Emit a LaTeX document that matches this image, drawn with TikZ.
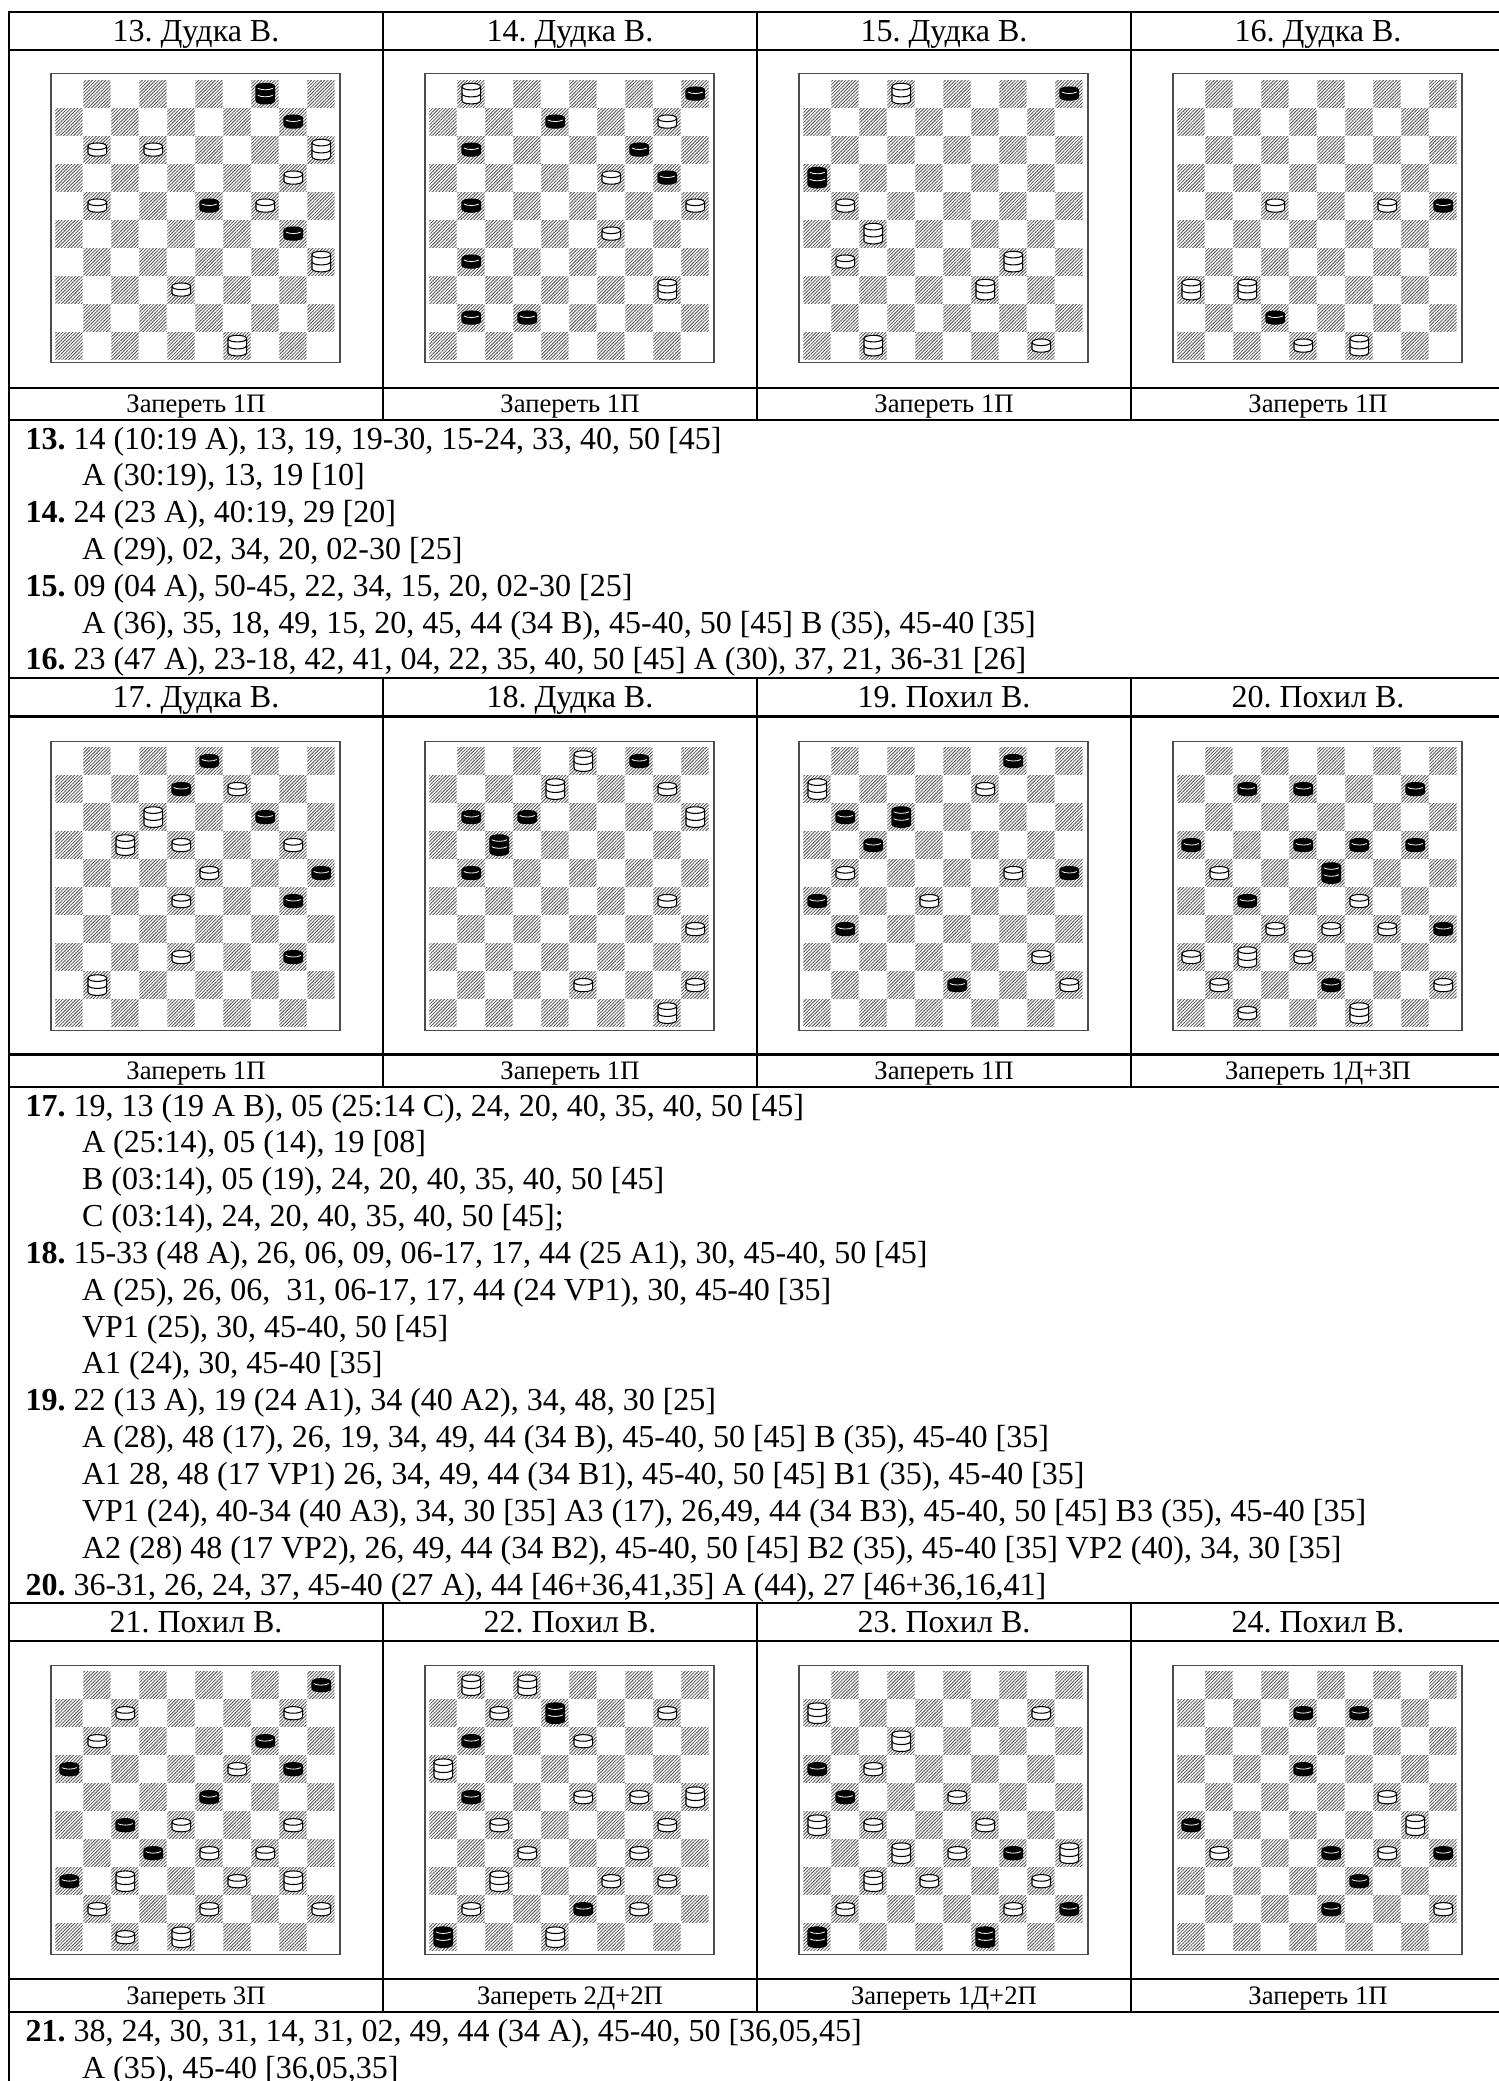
\documentclass[tikz,border=0pt]{standalone}
\usepackage{fontspec}
\setmainfont{Liberation Serif}
\usetikzlibrary{patterns.meta}
\tikzset{
  rule/.style={line width=0.85pt,black},
  frameline/.style={line width=0.5pt,draw=black!70},
  hatchsq/.style={pattern={Lines[angle=45,distance=0.88pt,line width=0.3pt]},pattern color=black!70},
  titletxt/.style={font=\fontsize{12}{14}\selectfont\frenchspacing,anchor=base,inner sep=0pt},
  goaltxt/.style={font=\fontsize{10}{12}\selectfont\frenchspacing,anchor=base,inner sep=0pt},
  sol/.style={font=\fontsize{12}{14}\selectfont\frenchspacing,anchor=base west,inner sep=0pt},
  wbody/.style={draw=black,fill=white,line width=0.4pt},
  warc/.style={draw=black,line width=0.4pt},
  bbody/.style={draw=black,fill=black,line width=0.4pt},
  barc/.style={draw=white,line width=0.3pt},
  wm/.pic={
    \draw[wbody] (-9.3,-3.3) -- (-9.3,3.3) .. controls (-9.3,7.7) and (9.3,7.7) .. (9.3,3.3) -- (9.3,-3.3) .. controls (9.3,-7.7) and (-9.3,-7.7) .. cycle;
    \draw[warc] (-9.3,-3.3) .. controls (-9.3,1.1) and (9.3,1.1) .. (9.3,-3.3);
  },
  wk/.pic={
    \draw[wbody] (-9.3,-7) -- (-9.3,7) .. controls (-9.3,11.4) and (9.3,11.4) .. (9.3,7) -- (9.3,-7) .. controls (9.3,-11.4) and (-9.3,-11.4) .. cycle;
    \draw[warc] (-9.3,-7) .. controls (-9.3,-2.6) and (9.3,-2.6) .. (9.3,-7);
    \draw[warc] (-9.3,0) .. controls (-9.3,4.4) and (9.3,4.4) .. (9.3,0);
  },
  bm/.pic={
    \draw[bbody] (-9.3,-3.3) -- (-9.3,3.3) .. controls (-9.3,7.7) and (9.3,7.7) .. (9.3,3.3) -- (9.3,-3.3) .. controls (9.3,-7.7) and (-9.3,-7.7) .. cycle;
    \draw[barc] (-7.5,-1.6) .. controls (-4,0.4) and (4,0.4) .. (7.5,-1.6);
  },
  bk/.pic={
    \draw[bbody] (-9.3,-7) -- (-9.3,7) .. controls (-9.3,11.4) and (9.3,11.4) .. (9.3,7) -- (9.3,-7) .. controls (9.3,-11.4) and (-9.3,-11.4) .. cycle;
    \draw[barc] (-7.5,-5.3) .. controls (-4,-3.3) and (4,-3.3) .. (7.5,-5.3);
    \draw[barc] (-7.5,1.7) .. controls (-4,3.7) and (4,3.7) .. (7.5,1.7);
  },
}
\newcommand{\sqpos}[1]{\pgfmathtruncatemacro\rr{int((#1-1)/5)}\pgfmathtruncatemacro\cc{2*(#1-1-5*\rr)+1-mod(\rr,2)}}
\newcommand{\putpieces}[2]{\def\plist{#2}\ifx\plist\empty\else
  \foreach \n in {#2}{\sqpos{\n}\pic at (\ox+28*\cc+14,\oy+28*\rr+13.6) {#1};}\fi}
% frame x, frame y, white men, white kings, black men, black kings
\newcommand{\drawboard}[6]{%
  \pgfmathsetmacro\ox{#1+4.3}\pgfmathsetmacro\oy{#2+6.3}
  \draw[frameline] (#1,#2) rectangle (#1+289,#2+289);
  \foreach \s in {1,...,50}{\sqpos{\s}\fill[hatchsq] (\ox+28*\cc,\oy+28*\rr) rectangle (\ox+28*\cc+27.4,\oy+28*\rr+27.2);}
  \putpieces{wm}{#3}\putpieces{wk}{#4}\putpieces{bm}{#5}\putpieces{bk}{#6}
}
\newcommand{\tablerow}[4]{%
  \draw[rule] (9,#1) -- (1499,#1);
  \draw[rule] (9,#2) -- (1499,#2);
  \draw[rule] (9,#3) -- (1499,#3);
  \draw[rule] (9,#4) -- (1499,#4);
  \foreach \v in {383,757,1131}{\draw[rule] (\v,#1) -- (\v,#4);}
}
\begin{document}
\begin{tikzpicture}[x=0.375pt,y=-0.375pt]
\useasboundingbox (0,0) rectangle (1499,2081);
\fill[white] (0,0) rectangle (1499,2081);
\tablerow{12}{50}{388}{420}
\tablerow{678}{716.5}{1054.5}{1087}
\tablerow{1603}{1641}{1979}{2012}
\draw[rule] (9,11) -- (9,2081);
% row 1
\node[titletxt] (h13) at (196,41.7) {13. Дудка В.};
\node[titletxt] (h14) at (570,41.7) {14. Дудка В.};
\node[titletxt] (h15) at (944,41.7) {15. Дудка В.};
\node[titletxt] (h16) at (1318,41.7) {16. Дудка В.};
\drawboard{51}{73.7}{11,12,20,21,24,38}{15,35,49}{10,23,30}{4}
\drawboard{425}{73.7}{10,19,25,29}{1,40}{5,8,11,14,20,21,31,41,42}{}
\drawboard{799}{73.7}{21,31,50}{2,27,34,39,47}{5}{16}
\drawboard{1173}{73.7}{22,24,48}{36,37,49}{25,42}{}
\node[goaltxt] (g13) at (196,412.7) {Запереть 1П};
\node[goaltxt] (g14) at (570,412.7) {Запереть 1П};
\node[goaltxt] (g15) at (944,412.7) {Запереть 1П};
\node[goaltxt] (g16) at (1318,412.7) {Запереть 1П};
\node[sol] (s1) at (25,449) {\textbf{13.} 14 (10:19 A), 13, 19, 19-30, 15-24, 33, 40, 50 [45]};
\node[sol] (s2) at (81.5,485.8) {A (30:19), 13, 19 [10]};
\node[sol] (s3) at (25,522.6) {\textbf{14.} 24 (23 A), 40:19, 29 [20]};
\node[sol] (s4) at (81.5,559.4) {A (29), 02, 34, 20, 02-30 [25]};
\node[sol] (s5) at (25,596.2) {\textbf{15.} 09 (04 A), 50-45, 22, 34, 15, 20, 02-30 [25]};
\node[sol] (s6) at (81.5,633) {A (36), 35, 18, 49, 15, 20, 45, 44 (34 B), 45-40, 50 [45] B (35), 45-40 [35]};
\node[sol] (s7) at (25,669.8) {\textbf{16.} 23 (47 A), 23-18, 42, 41, 04, 22, 35, 40, 50 [45] A (30), 37, 21, 36-31 [26]};
% row 2
\node[titletxt] (h17) at (196,707.7) {17. Дудка В.};
\node[titletxt] (h18) at (570,707.7) {18. Дудка В.};
\node[titletxt] (h19) at (944,707.7) {19. Похил В.};
\node[titletxt] (h20) at (1318,707.7) {20. Похил В.};
\drawboard{51}{741.2}{9,18,20,23,28,38}{12,17,41}{3,8,14,25,30,40}{}
\drawboard{425}{741.2}{10,30,35,43,45}{3,8,15,50}{4,11,12,21}{17}
\drawboard{799}{741.2}{9,21,24,28,40,45}{6}{4,11,17,25,26,31,43}{12}
\drawboard{1173}{741.2}{21,29,32,33,34,36,38,41,45,47}{37,49}{7,8,10,16,18,19,20,27,35,43}{23}
\node[goaltxt] (g17) at (196,1079.4) {Запереть 1П};
\node[goaltxt] (g18) at (570,1079.4) {Запереть 1П};
\node[goaltxt] (g19) at (944,1079.4) {Запереть 1П};
\node[goaltxt] (g20) at (1318,1079.4) {Запереть 1Д+3П};
\node[sol] (s8) at (25,1116) {\textbf{17.} 19, 13 (19 A B), 05 (25:14 C), 24, 20, 40, 35, 40, 50 [45]};
\node[sol] (s9) at (81.5,1152.85) {A (25:14), 05 (14), 19 [08]};
\node[sol] (s10) at (81.5,1189.7) {B (03:14), 05 (19), 24, 20, 40, 35, 40, 50 [45]};
\node[sol] (s11) at (81.5,1226.55) {C (03:14), 24, 20, 40, 35, 40, 50 [45];};
\node[sol] (s12) at (25,1263.4) {\textbf{18.} 15-33 (48 A), 26, 06, 09, 06-17, 17, 44 (25 A1), 30, 45-40, 50 [45]};
\node[sol] (s13) at (81.5,1300.25) {A (25), 26, 06,\ \ 31, 06-17, 17, 44 (24 VP1), 30, 45-40 [35]};
\node[sol] (s14) at (81.5,1337.1) {VP1 (25), 30, 45-40, 50 [45]};
\node[sol] (s15) at (81.5,1373.95) {A1 (24), 30, 45-40 [35]};
\node[sol] (s16) at (25,1410.8) {\textbf{19.} 22 (13 A), 19 (24 A1), 34 (40 A2), 34, 48, 30 [25]};
\node[sol] (s17) at (81.5,1447.65) {A (28), 48 (17), 26, 19, 34, 49, 44 (34 B), 45-40, 50 [45] B (35), 45-40 [35]};
\node[sol] (s18) at (81.5,1484.5) {A1 28, 48 (17 VP1) 26, 34, 49, 44 (34 B1), 45-40, 50 [45] B1 (35), 45-40 [35]};
\node[sol] (s19) at (81.5,1521.35) {VP1 (24), 40-34 (40 A3), 34, 30 [35] A3 (17), 26,49, 44 (34 B3), 45-40, 50 [45] B3 (35), 45-40 [35]};
\node[sol] (s20) at (81.5,1558.2) {A2 (28) 48 (17 VP2), 26, 49, 44 (34 B2), 45-40, 50 [45] B2 (35), 45-40 [35] VP2 (40), 34, 30 [35]};
\node[sol] (s21) at (25,1595) {\textbf{20.} 36-31, 26, 24, 37, 45-40 (27 A), 44 [46+36,41,35] A (44), 27 [46+36,16,41]};
% row 3
\node[titletxt] (h21) at (196,1632.7) {21. Похил В.};
\node[titletxt] (h22) at (570,1632.7) {22. Похил В.};
\node[titletxt] (h23) at (944,1632.7) {23. Похил В.};
\node[titletxt] (h24) at (1318,1632.7) {24. Похил В.};
\drawboard{51}{1665.3}{7,10,11,19,28,30,33,34,39,41,43,45,47}{37,40,48}{5,14,16,20,23,27,32,36}{}
\drawboard{425}{1665.3}{7,10,13,23,24,27,30,32,34,39,40,41,44}{1,2,16,25,37,48}{11,21,43}{8,46}
\drawboard{799}{1665.3}{10,17,23,27,29,33,38,40,41,44}{6,12,26,32,35,37}{16,21,34,45}{46,49}
\drawboard{1173}{1665.3}{24,31,34,45}{30}{8,9,18,26,33,35,39,43}{}
\node[goaltxt] (g21) at (196,2004.7) {Запереть 3П};
\node[goaltxt] (g22) at (570,2004.7) {Запереть 2Д+2П};
\node[goaltxt] (g23) at (944,2004.7) {Запереть 1Д+2П};
\node[goaltxt] (g24) at (1318,2004.7) {Запереть 1П};
\node[sol] (s22) at (25,2041) {\textbf{21.} 38, 24, 30, 31, 14, 31, 02, 49, 44 (34 A), 45-40, 50 [36,05,45]};
\node[sol] (s23) at (81.5,2078) {A (35), 45-40 [36,05,35]};
\end{tikzpicture}
\end{document}
